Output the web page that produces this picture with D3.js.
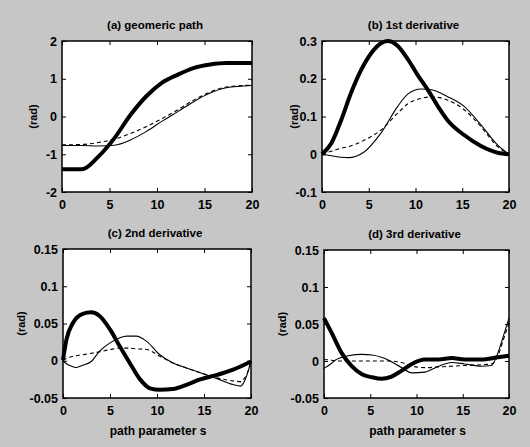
<!DOCTYPE html>
<html>
<head>
<meta charset="utf-8">
<script src="https://cdn.jsdelivr.net/npm/d3@7"></script>
<style>
body { margin: 0; background: #c6c6c6; }
svg { display: block; }
text { font-family: "Liberation Sans", Arial, sans-serif; fill: #000; }
</style>
</head>
<body>
<script>
// panel (a) geometric path
var aX = [0, 2.1, 3.8, 5.5, 7.2, 8.85, 10.5, 12.2, 13.9, 15.6, 17.3, 20]
var aThick = [-1.4, -1.4, -1.07, -0.58, 0.04, 0.53, 0.89, 1.11, 1.29, 1.38, 1.42, 1.42]
var aThin = [-0.77, -0.77, -0.78, -0.76, -0.62, -0.4, -0.13, 0.13, 0.4, 0.62, 0.76, 0.82]
var aDash = [-0.75, -0.74, -0.69, -0.6, -0.45, -0.27, -0.06, 0.18, 0.44, 0.65, 0.78, 0.83]

// panel (b) 1st derivative
var bX = [0, 1, 2.06, 2.8, 3.1, 4.2, 4.5, 5.3, 6.3, 7, 8.1, 9.2, 10.2, 10.6, 11.3, 11.7, 12.4, 13.4, 15.2, 17, 18.8, 20]
var bThick = [0, 0.029, 0.091, null, 0.162, 0.224, null, 0.269, 0.294, 0.3, 0.287, 0.251, 0.211, null, 0.171, null, 0.127, 0.091, 0.051, 0.022, 0.004, 0]
var bThin = [0, -0.004, -0.008, -0.009, null, null, 0.006, null, 0.056, null, 0.127, 0.16, null, 0.173, null, 0.171, null, 0.153, 0.127, 0.078, 0.024, 0]
var bDash = [0, 0.008, 0.016, 0.02, null, null, 0.037, null, 0.064, null, 0.109, 0.134, null, 0.148, null, 0.152, null, 0.144, 0.118, 0.073, 0.02, 0]

// panel (c) 2nd derivative
var cX = [0, 0.36, 1.07, 1.4, 2.1, 3, 3.9, 5, 6.05, 6.8, 7.1, 7.8, 8.2, 8.9, 9.25, 10.3, 11.7, 13.2, 14.6, 16.4, 18.1, 18.9, 19.2, 19.6, 20]
var cThick = [0.001, 0.028, 0.051, null, 0.063, 0.065, 0.06, 0.042, 0.019, null, -0.003, null, -0.025, null, -0.037, -0.039, -0.038, -0.032, -0.025, -0.019, -0.012, null, null, null, -0.001]
var cThin = [0, -0.004, -0.008, -0.009, -0.006, -0.001, 0.013, 0.024, 0.031, 0.033, null, 0.033, null, 0.026, null, 0.008, -0.003, -0.01, -0.016, -0.024, -0.032, -0.034, -0.03, -0.018, 0]
var cDash = [0, 0.003, 0.006, null, 0.008, 0.01, 0.012, 0.015, 0.017, 0.017, null, 0.016, null, 0.015, null, 0.006, -0.003, -0.01, -0.016, -0.023, -0.027, -0.028, -0.025, -0.017, 0]

// panel (d) 3rd derivative
var dX = [0, 0.83, 1.2, 1.9, 2.6, 3, 4.1, 5.2, 6.2, 7, 7.3, 8.4, 9.5, 10.9, 12.4, 13.8, 15.2, 17, 18.1, 18.8, 19.4, 20]
var dThick = [0.058, 0.038, null, 0.011, null, -0.007, -0.018, -0.022, -0.024, null, -0.021, -0.013, -0.004, 0.002, 0.002, 0.004, 0.002, 0.002, null, 0.005, null, 0.007]
var dThin = [-0.01, -0.003, 0.001, null, 0.007, null, 0.009, 0.008, 0.005, 0.001, null, -0.009, -0.016, -0.015, -0.007, -0.002, -0.004, -0.007, -0.006, 0.011, 0.034, 0.058]
var dDash = [0.002, 0.001, 0, null, 0, null, 0, 0, 0, 0, null, -0.002, -0.007, -0.009, -0.008, -0.007, -0.006, -0.005, -0.004, 0.007, 0.029, 0.052]

var xTicks = [0, 5, 10, 15, 20]
var aTicks = [-2, -1, 0, 1, 2]
var bTicks = [-0.1, 0, 0.1, 0.2, 0.3]
var cdTicks = [-0.05, 0, 0.05, 0.1, 0.15]

var titles = ["(a) geomeric path", "(b) 1st derivative", "(c) 2nd derivative", "(d) 3rd derivative"]
var yLabel = "(rad)"
var xLabel = "path parameter s"

var W = 530, H = 447
var svg = d3.select("body").append("svg").attr("width", W).attr("height", H)

// plain hyphen for negatives, like the original
var fmt = function (d) { return String(+d.toFixed(2)) }

function drawPanel(box, xs, series, yDomain, yTicks, title, showXLabel, labelGap) {
	var x = d3.scaleLinear().domain([0, 20]).range([box.x0, box.x1])
	var y = d3.scaleLinear().domain(yDomain).range([box.y1, box.y0])

	var g = svg.append("g")

	g.append("rect")
		.attr("x", box.x0).attr("y", box.y0)
		.attr("width", box.x1 - box.x0).attr("height", box.y1 - box.y0)
		.attr("fill", "#fff")

	// thin, dashed, thick
	var styles = [
		{ w: 1.1, dash: null },
		{ w: 1.1, dash: "4,3" },
		{ w: 4, dash: null }
	]
	series.forEach(function (vals, i) {
		var pts = xs.map(function (xv, j) { return [xv, vals[j]] })
			.filter(function (p) { return p[1] !== null })
		var line = d3.line()
			.x(function (p) { return x(p[0]) })
			.y(function (p) { return y(p[1]) })
			.curve(d3.curveMonotoneX)
		g.append("path")
			.datum(pts)
			.attr("d", line)
			.attr("fill", "none")
			.attr("stroke", "#000")
			.attr("stroke-width", styles[i].w)
			.attr("stroke-dasharray", styles[i].dash)
			.attr("stroke-linejoin", "round")
	})

	var xAxis = d3.axisBottom(x).tickValues(xTicks).tickSizeInner(-4).tickSizeOuter(0).tickPadding(8).tickFormat(fmt)
	var xAxisTop = d3.axisTop(x).tickValues(xTicks).tickSizeInner(-4).tickSizeOuter(0).tickFormat("")
	var yAxis = d3.axisLeft(y).tickValues(yTicks).tickSizeInner(-4).tickSizeOuter(0).tickPadding(5).tickFormat(fmt)
	var yAxisRight = d3.axisRight(y).tickValues(yTicks).tickSizeInner(-4).tickSizeOuter(0).tickFormat("")

	g.append("g").attr("transform", "translate(0," + box.y1 + ")").call(xAxis)
	g.append("g").attr("transform", "translate(0," + box.y0 + ")").call(xAxisTop)
	g.append("g").attr("transform", "translate(" + box.x0 + ",0)").call(yAxis)
	g.append("g").attr("transform", "translate(" + box.x1 + ",0)").call(yAxisRight)

	g.selectAll(".tick text")
		.attr("font-size", 12.5)
		.attr("font-weight", "bold")
		.attr("font-family", "Liberation Sans, Arial, sans-serif")
	g.selectAll(".domain").remove()
	g.selectAll(".tick line").attr("stroke", "#000")

	g.append("rect")
		.attr("x", box.x0).attr("y", box.y0)
		.attr("width", box.x1 - box.x0).attr("height", box.y1 - box.y0)
		.attr("fill", "none").attr("stroke", "#000").attr("stroke-width", 1.5)

	g.append("text")
		.attr("x", (box.x0 + box.x1) / 2 - 2).attr("y", box.y0 - 12)
		.attr("text-anchor", "middle")
		.attr("font-size", 11.5)
		.attr("font-weight", "bold")
		.text(title)

	g.append("text")
		.attr("transform", "translate(" + (box.x0 - labelGap) + "," + ((box.y0 + box.y1) / 2) + ") rotate(-90)")
		.attr("text-anchor", "middle")
		.attr("font-size", 11)
		.attr("font-weight", "bold")
		.text(yLabel)

	if (showXLabel) {
		g.append("text")
			.attr("x", (box.x0 + box.x1) / 2 + 1).attr("y", box.y1 + 37)
			.attr("text-anchor", "middle")
			.attr("font-size", 12)
			.attr("font-weight", "bold")
			.text(xLabel)
	}
}

drawPanel({ x0: 62, x1: 252, y0: 41, y1: 192 }, aX, [aThin, aDash, aThick], [-2, 2], aTicks, titles[0], false, 25)
drawPanel({ x0: 322, x1: 509, y0: 41, y1: 192 }, bX, [bThin, bDash, bThick], [-0.1, 0.3], bTicks, titles[1], false, 24)
drawPanel({ x0: 63, x1: 251, y0: 249, y1: 398 }, cX, [cThin, cDash, cThick], [-0.05, 0.15], cdTicks, titles[2], true, 38)
drawPanel({ x0: 324, x1: 509, y0: 250, y1: 398 }, dX, [dThin, dDash, dThick], [-0.05, 0.15], cdTicks, titles[3], true, 38)
</script>
</body>
</html>
